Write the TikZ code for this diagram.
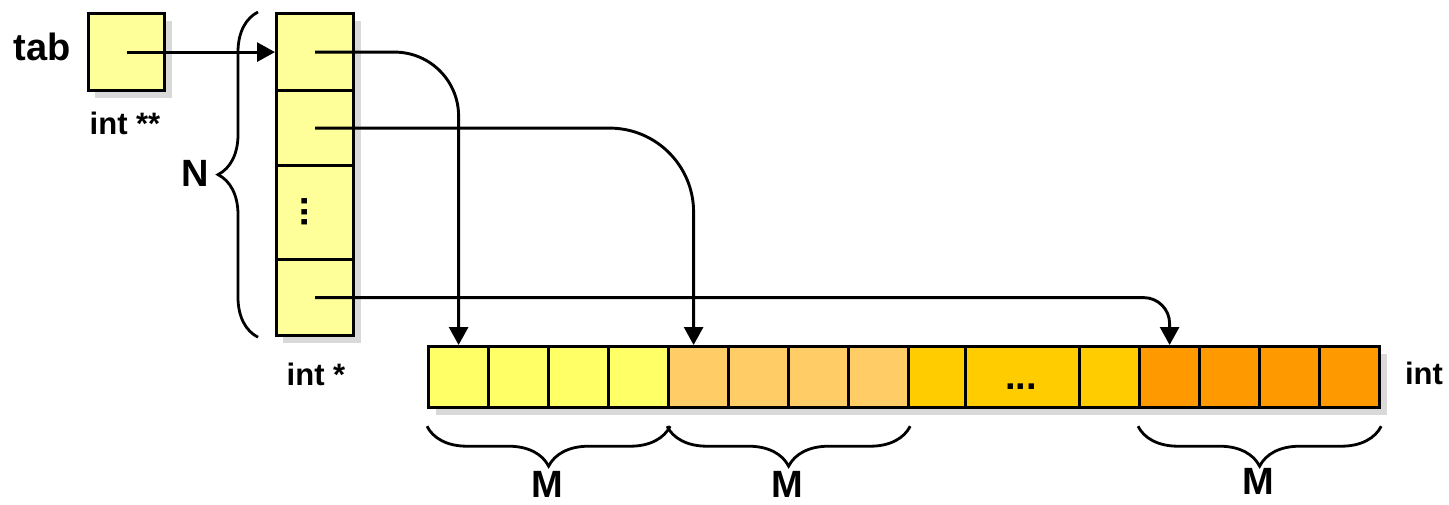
\documentclass[tikz,border=0pt]{standalone}
\usepackage{fontspec}
\setmainfont{Liberation Sans}
\usetikzlibrary{arrows.meta,decorations.pathreplacing}
\definecolor{paleY}{HTML}{FFFF99}
\definecolor{cYel}{HTML}{FFFF66}
\definecolor{cLor}{HTML}{FFCC66}
\definecolor{cGold}{HTML}{FFCC00}
\definecolor{cOra}{HTML}{FF9900}
\definecolor{shadowgray}{HTML}{D9D9D9}
\begin{document}
\begin{tikzpicture}[x=0.5pt,y=-0.5pt,
  cellbox/.style={draw, line width=1.6pt, inner sep=0pt, anchor=north west, fill=#1},
  ptr/.style={line width=1.45pt, -{Triangle[length=9pt,width=9.5pt]}},
  lbl/.style={font=\bfseries\fontsize{19}{21}\selectfont, inner sep=0pt},
  ilbl/.style={font=\bfseries\fontsize{15.5}{18}\selectfont, inner sep=0pt},
  brc/.style={decorate, decoration={brace, amplitude=20pt}, line width=1.4pt}]
\useasboundingbox (0,0) rectangle (1449,504);
% shadows
\fill[shadowgray] (95,21) rectangle (172,98);
\fill[shadowgray] (283,21) rectangle (361,343);
\fill[shadowgray] (436,354) rectangle (1387,415);
% tab
\node[cellbox=paleY, minimum width=38pt, minimum height=38.5pt] (tab) at (87,12) {};
% column
\node[cellbox=paleY, minimum width=38.5pt, minimum height=38.5pt] (c1) at (275,12) {};
\node[cellbox=paleY, minimum width=38.5pt, minimum height=37.5pt] (c2) at (275,89) {};
\node[cellbox=paleY, minimum width=38.5pt, minimum height=47pt] (c3) at (275,164) {};
\node[cellbox=paleY, minimum width=38.5pt, minimum height=38pt] (c4) at (275,258) {};
% row
\begin{scope}[every node/.append style={minimum height=30.5pt}]
\node[cellbox=cYel, minimum width=30pt] (r1) at (427,345) {};
\node[cellbox=cYel, minimum width=30pt] (r2) at (487,345) {};
\node[cellbox=cYel, minimum width=30pt] (r3) at (547,345) {};
\node[cellbox=cYel, minimum width=30pt] (r4) at (607,345) {};
\node[cellbox=cLor, minimum width=30pt] (r5) at (667,345) {};
\node[cellbox=cLor, minimum width=30pt] (r6) at (727,345) {};
\node[cellbox=cLor, minimum width=30pt] (r7) at (787,345) {};
\node[cellbox=cLor, minimum width=30pt] (r8) at (847,345) {};
\node[cellbox=cGold, minimum width=28.5pt] (r9) at (907,345) {};
\node[cellbox=cGold, minimum width=57pt] (r10) at (964,345) {};
\node[cellbox=cGold, minimum width=30pt] (r11) at (1078,345) {};
\node[cellbox=cOra, minimum width=30pt] (r12) at (1138,345) {};
\node[cellbox=cOra, minimum width=30pt] (r13) at (1198,345) {};
\node[cellbox=cOra, minimum width=30pt] (r14) at (1258,345) {};
\node[cellbox=cOra, minimum width=30pt] (r15) at (1318,345) {};
\end{scope}
% dots
\node[lbl, rotate=90] (vd) at (305,212) {...};
\node[lbl] (hd) at (1021,386.5) {...};
% arrows
\draw[ptr] (tab.center) -- (c1.west);
\draw[ptr, rounded corners=32pt] (c1.center) -| (r1.north);
\draw[ptr, rounded corners=42pt] (c2.center) -| ([xshift=-2.5pt]r5.north);
\draw[ptr, rounded corners=13pt] (c4.center) -| (r12.north);
% braces
\draw[brc] ([xshift=-8.5pt]c4.south west) -- ([xshift=-8.5pt]c1.north west);
\draw[brc] ([yshift=-8.5pt]r4.south east) -- ([yshift=-8.5pt]r1.south west);
\draw[brc] ([yshift=-8.5pt]r8.south east) -- ([yshift=-8.5pt]r5.south west);
\draw[brc] ([yshift=-8.5pt]r15.south east) -- ([yshift=-8.5pt]r12.south west);
% labels
\node[lbl] (tabl) at (42,47) {tab};
\node[ilbl] (i2) at (125,123) {int **};
\node[lbl] (N) at (195,173.5) {N};
\node[ilbl] (i1) at (316,374) {int *};
\node[ilbl] (i0) at (1424,373.5) {int};
\node[lbl] (m1) at (547,484) {M};
\node[lbl] (m2) at (787,484) {M};
\node[lbl] (m3) at (1258,481) {M};
\end{tikzpicture}
\end{document}
